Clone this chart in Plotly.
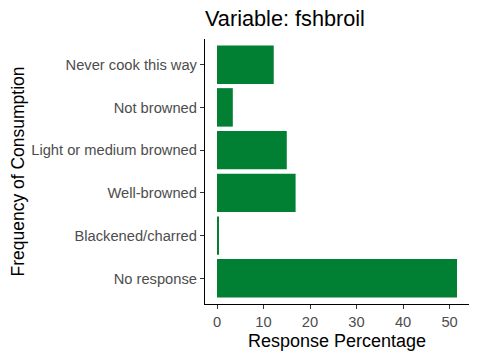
import plotly.graph_objects as go

categories = ["Never cook this way", "Not browned", "Light or medium browned",
              "Well-browned", "Blackened/charred", "No response"]
values = [12.2, 3.4, 15.0, 16.9, 0.4, 51.6]
x_ticks = [0, 10, 20, 30, 40, 50]

cats_rev = categories[::-1]
vals_rev = values[::-1]

fig = go.Figure(go.Bar(
    y=cats_rev, x=vals_rev, orientation="h",
    marker=dict(color="#017F32", line=dict(width=0)),
    width=0.9,
))

font_family = "Liberation Sans, Arial, sans-serif"
vmax = max(values)
fig.update_layout(
    width=480, height=360,
    margin=dict(l=205, r=11, t=39, b=56),
    plot_bgcolor="white", paper_bgcolor="white",
    font=dict(family=font_family),
    title=dict(text="Variable: fshbroil", x=205/480, xanchor="left",
               y=1-18/360, yanchor="middle", yref="container",
               font=dict(size=21.7, color="black", family=font_family)),
    showlegend=False,
    bargap=0.1,
)
fig.update_xaxes(
    range=[-0.05*vmax, 1.05*vmax], tickvals=x_ticks,
    showgrid=False, zeroline=False,
    showline=True, linecolor="black", linewidth=1.2,
    ticks="outside", ticklen=4, tickcolor="#333333", tickwidth=1,
    tickfont=dict(size=14.7, color="#4D4D4D"),
    title=dict(text="Response Percentage", font=dict(size=18, color="black"), standoff=5),
)
fig.update_yaxes(
    categoryorder="array", categoryarray=cats_rev,
    range=[-0.6, len(categories)-0.4],
    showgrid=False, zeroline=False,
    showline=True, linecolor="black", linewidth=1.2,
    ticks="outside", ticklen=4, tickcolor="#333333", tickwidth=1,
    tickfont=dict(size=14.7, color="#4D4D4D"),
    title=dict(text="Frequency of Consumption", font=dict(size=17.5, color="black"), standoff=2),
)

fig.write_html("out.html")
